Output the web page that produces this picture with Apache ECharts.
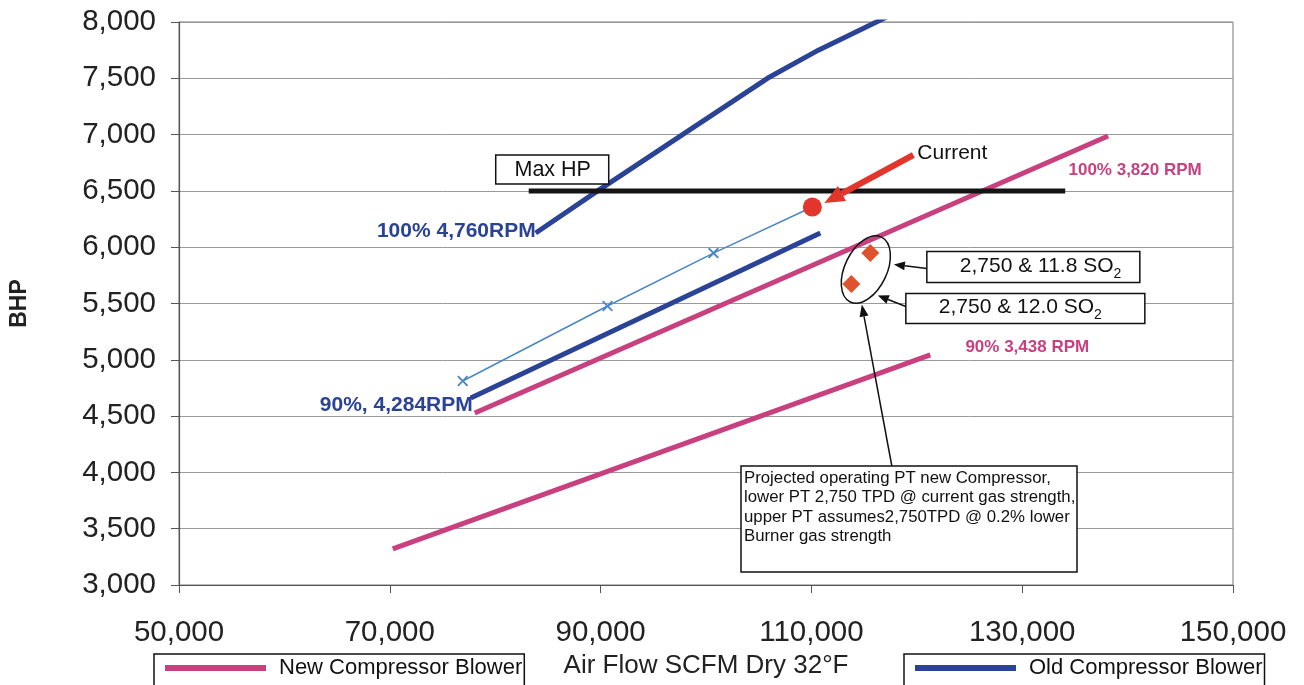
<!DOCTYPE html>
<html>
<head>
<meta charset="utf-8">
<script src="https://cdn.jsdelivr.net/npm/echarts@6/dist/echarts.min.js"></script>
<style>
  html, body { margin: 0; padding: 0; background: #fff; }
  #chart { width: 1304px; height: 685px; }
</style>
</head>
<body>
<div id="chart"></div>
<script>
// Blower performance: air flow (SCFM dry, 32°F) against brake horsepower
const newBlower100 = [[78060, 4528], [138150, 6988]];
const newBlower90  = [[70280, 3320], [121280, 5043]];
const oldBlower100 = [[83840, 6126], [89720, 6500], [97770, 7000], [105830, 7500], [110660, 7750], [118150, 8090]];
const oldBlower90  = [[77680, 4661], [110850, 6126]];
// measured operating line; the last point is the current operation
const operatingPoints = [[76920, 4812], [90660, 5478], [100710, 5948], [110090, 6357]];
// projected new-compressor points: upper = 11.8 SO2, lower = 12.0 SO2
const projectedPoints = [[115590, 5948], [113790, 5673]];
const maxHpLine = [[83180, 6500], [134080, 6500]];

const xMin = 50000, xMax = 150000, xStep = 20000;
const yMin = 3000, yMax = 8000, yStep = 500;

const curveLabels = ['100% 4,760RPM', '90%, 4,284RPM', '100% 3,820 RPM', '90% 3,438 RPM'];
const seriesNames = ['New Compressor Blower', 'Old Compressor Blower'];
const noteLines = [
  'Projected operating PT new Compressor,',
  'lower PT 2,750 TPD @ current gas strength,',
  'upper PT assumes2,750TPD @ 0.2% lower',
  'Burner gas strength'
];

const FONT = '"Liberation Sans", Arial, sans-serif';
const PINK = '#c9407f';
const BLUE = '#2b4397';
const LIGHT_BLUE = '#4a86c6';
const RED = '#e2352b';
const ORANGE = '#e0512e';

const fmt = v => Math.round(v).toLocaleString('en-US');

const chart = echarts.init(document.getElementById('chart'), null, { renderer: 'canvas' });

const legendBase = {
  orient: 'horizontal',
  top: 654,
  padding: [3, 2, 22, 11],
  borderColor: '#111',
  borderWidth: 1.5,
  backgroundColor: '#fff',
  icon: 'rect',
  itemWidth: 101,
  itemHeight: 6,
  selectedMode: false,
  textStyle: { fontFamily: FONT, fontSize: 22, color: '#111', padding: [0, 0, 0, 8] }
};

chart.setOption({
  animation: false,
  backgroundColor: '#fff',
  textStyle: { fontFamily: FONT },
  grid: {
    left: 178, right: 71, top: 22, bottom: 100,
    show: true, borderColor: '#777', borderWidth: 1
  },
  legend: [
    Object.assign({}, legendBase, { left: 154, data: [seriesNames[0]] }),
    Object.assign({}, legendBase, { left: 904, data: [seriesNames[1]] })
  ],
  xAxis: {
    type: 'value', min: xMin, max: xMax, interval: xStep,
    name: 'Air Flow SCFM Dry 32°F',
    nameLocation: 'middle', nameGap: 67,
    nameTextStyle: { fontFamily: FONT, fontSize: 26, color: '#222' },
    axisLine: { show: true, onZero: false, lineStyle: { color: '#555', width: 1.2 } },
    axisTick: { show: true, length: 8, lineStyle: { color: '#555' } },
    axisLabel: { fontFamily: FONT, fontSize: 29.5, color: '#222', margin: 33, formatter: fmt },
    splitLine: { show: false }
  },
  yAxis: {
    type: 'value', min: yMin, max: yMax, interval: yStep,
    name: 'BHP',
    nameLocation: 'middle', nameGap: 148, nameRotate: 90,
    nameTextStyle: { fontFamily: FONT, fontSize: 23, fontWeight: 'bold', color: '#222' },
    axisLine: { show: true, lineStyle: { color: '#555', width: 1.2 } },
    axisTick: { show: true, length: 8, lineStyle: { color: '#555' } },
    axisLabel: { fontFamily: FONT, fontSize: 29.5, color: '#222', margin: 23, formatter: fmt },
    splitLine: { show: true, lineStyle: { color: '#9a9a9a', width: 1 } }
  },
  series: [
    {
      name: seriesNames[0], type: 'line', data: newBlower100, symbol: 'none',
      lineStyle: { color: PINK, width: 5 }, itemStyle: { color: PINK }, z: 3
    },
    {
      name: seriesNames[0], type: 'line', data: newBlower90, symbol: 'none',
      lineStyle: { color: PINK, width: 5 }, itemStyle: { color: PINK }, z: 3
    },
    {
      name: seriesNames[1], type: 'line', data: oldBlower100, symbol: 'none',
      lineStyle: { color: BLUE, width: 5, join: 'round' }, itemStyle: { color: BLUE }, z: 4
    },
    {
      name: seriesNames[1], type: 'line', data: oldBlower90, symbol: 'none',
      lineStyle: { color: BLUE, width: 5 }, itemStyle: { color: BLUE }, z: 4
    },
    {
      name: 'Max HP', type: 'line', data: maxHpLine, symbol: 'none',
      lineStyle: { color: '#151515', width: 5 }, z: 5
    },
    {
      name: 'Operating', type: 'line',
      data: operatingPoints.map((p, i) => i === operatingPoints.length - 1
        ? { value: p, symbol: 'circle', symbolSize: 19, itemStyle: { color: RED } }
        : { value: p }),
      symbol: 'path://M0,1.2L1.2,0L5,3.8L8.8,0L10,1.2L6.2,5L10,8.8L8.8,10L5,6.2L1.2,10L0,8.8L3.8,5Z',
      symbolSize: 11,
      lineStyle: { color: LIGHT_BLUE, width: 1.5 },
      itemStyle: { color: LIGHT_BLUE },
      z: 6
    },
    {
      name: 'Projected', type: 'scatter', data: projectedPoints,
      symbol: 'diamond', symbolSize: [18, 18],
      itemStyle: { color: ORANGE, opacity: 1 }, z: 6
    }
  ]
});

// Annotations anchored to the plotted data
function px(p) { return chart.convertToPixel({ gridIndex: 0 }, p); }

function arrow(x1, y1, x2, y2, color, width, headLen, headWidth) {
  const a = Math.atan2(y2 - y1, x2 - x1);
  const bx = x2 - headLen * Math.cos(a), by = y2 - headLen * Math.sin(a);
  const ox = -Math.sin(a) * headWidth / 2, oy = Math.cos(a) * headWidth / 2;
  return [
    { type: 'line', z: 100, silent: true,
      shape: { x1: x1, y1: y1, x2: bx, y2: by },
      style: { stroke: color, lineWidth: width } },
    { type: 'polygon', z: 101, silent: true,
      shape: { points: [[x2, y2], [bx + ox, by + oy], [bx - ox, by - oy]] },
      style: { fill: color } }
  ];
}

function box(x, y, w, h) {
  return { type: 'rect', z: 100, silent: true,
    shape: { x: x, y: y, width: w, height: h },
    style: { fill: '#fff', stroke: '#111', lineWidth: 1.5 } };
}

function text(x, y, str, size, color, weight, align) {
  return { type: 'text', z: 102, silent: true, x: x, y: y,
    style: { text: str, fontFamily: FONT, fontSize: size, fontWeight: weight || 'normal',
      fill: color, align: align || 'left', verticalAlign: 'middle' } };
}

function so2Text(x, y, str) {
  return { type: 'text', z: 102, silent: true, x: x, y: y,
    style: {
      text: '{a|' + str + ' SO}{b|2}',
      verticalAlign: 'middle',
      rich: {
        a: { fontFamily: FONT, fontSize: 21, fill: '#111', lineHeight: 30 },
        b: { fontFamily: FONT, fontSize: 14, fill: '#111', lineHeight: 14, verticalAlign: 'bottom' }
      }
    } };
}

const pCur = px(operatingPoints[operatingPoints.length - 1]);
const pHi = px(projectedPoints[0]);
const pLo = px(projectedPoints[1]);
const pMax = px(maxHpLine[0]);
const pOld100 = px(oldBlower100[0]);
const pOld90 = px(oldBlower90[0]);
const pNew100 = px(newBlower100[newBlower100.length - 1]);
const pNew90 = px(newBlower90[newBlower90.length - 1]);

const ecx = (pHi[0] + pLo[0]) / 2 + 5;
const ecy = (pHi[1] + pLo[1]) / 2 + 1;

const elements = [];

// Max HP label
elements.push(box(pMax[0] - 33, pMax[1] - 36, 113, 29));
elements.push(text(pMax[0] + 24, pMax[1] - 21, 'Max HP', 21.5, '#111', 'normal', 'center'));

// Current arrow
elements.push(...arrow(pCur[0] + 101, pCur[1] - 52, pCur[0] + 12, pCur[1] - 4, RED, 6, 20, 17));
elements.push(text(pCur[0] + 105, pCur[1] - 54, 'Current', 21, '#111'));

// curve speed labels
elements.push(text(pOld100[0], pOld100[1] - 2, curveLabels[0], 21, BLUE, 'bold', 'right'));
elements.push(text(pOld90[0] + 2, pOld90[1] + 7, curveLabels[1], 21, BLUE, 'bold', 'right'));
elements.push(text(pNew100[0] + 27, pNew100[1] + 34, curveLabels[2], 17, PINK, 'bold', 'center'));
elements.push(text(pNew90[0] + 97, pNew90[1] - 8, curveLabels[3], 17, PINK, 'bold', 'center'));

// ellipse round the projected points
elements.push({ type: 'ellipse', z: 99, silent: true, x: ecx, y: ecy, rotation: -0.45,
  shape: { cx: 0, cy: 0, rx: 21, ry: 36 },
  style: { fill: 'none', stroke: '#111', lineWidth: 1.5 } });

// SO2 call-outs
elements.push(box(ecx + 61, ecy - 18, 213, 31));
elements.push(so2Text(ecx + 94, ecy - 3, '2,750 & 11.8'));
elements.push(...arrow(ecx + 61, ecy - 1, ecx + 28, ecy - 5, '#111', 1.5, 11, 9));
elements.push(box(ecx + 40, ecy + 24, 239, 30));
elements.push(so2Text(ecx + 73, ecy + 38, '2,750 & 12.0'));
elements.push(...arrow(ecx + 40, ecy + 37, ecx + 12, ecy + 26, '#111', 1.5, 11, 9));

// projected operating note
elements.push(...arrow(ecx + 26, 466, ecx - 4, ecy + 35, '#111', 1.5, 12, 9));
elements.push(box(741, 466, 336, 106));
noteLines.forEach((line, i) => {
  elements.push(text(744, 478 + i * 19.6, line, 16.8, '#111'));
});

chart.setOption({ graphic: { elements: elements } });
</script>
</body>
</html>
